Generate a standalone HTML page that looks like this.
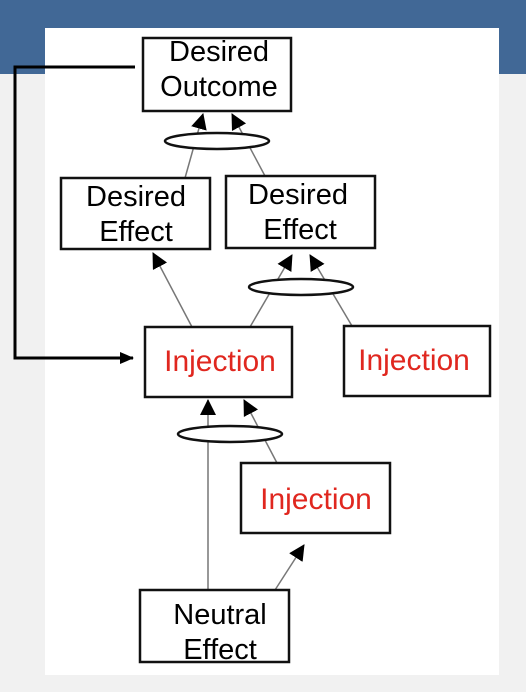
<!DOCTYPE html>
<html><head><style>
html,body{margin:0;padding:0;width:526px;height:692px;overflow:hidden;background:#f1f1f1}
</style></head><body>
<svg width="526" height="692" xmlns="http://www.w3.org/2000/svg" style="position:absolute;left:0;top:0">
<defs>
<marker id="a" markerWidth="14" markerHeight="12" refX="13" refY="6" orient="auto" markerUnits="userSpaceOnUse">
<path d="M0,0 L14,6 L0,12 Z" fill="#000"/></marker>
<marker id="b" markerWidth="16" markerHeight="16" refX="15" refY="8" orient="auto" markerUnits="userSpaceOnUse">
<path d="M0,0 L16,8 L0,16 Z" fill="#000"/></marker>
</defs>
<rect x="0" y="0" width="526" height="74" fill="#416896"/>
<rect x="45" y="28" width="454" height="647" fill="#fff"/>
<g stroke="#777" stroke-width="1.5" fill="none">
<line x1="185" y1="178" x2="203" y2="114" marker-end="url(#b)"/>
<line x1="265" y1="176" x2="232" y2="114" marker-end="url(#b)"/>
<line x1="192" y1="327" x2="153" y2="253" marker-end="url(#b)"/>
<line x1="250" y1="327" x2="292" y2="255" marker-end="url(#b)"/>
<line x1="352" y1="326" x2="310" y2="255" marker-end="url(#b)"/>
<line x1="208" y1="590" x2="208" y2="400" marker-end="url(#b)"/>
<line x1="277" y1="463" x2="244" y2="400" marker-end="url(#b)"/>
<line x1="275" y1="590" x2="304" y2="545" marker-end="url(#b)"/>
</g>
<g stroke="#111" stroke-width="2.5" fill="#fff">
<ellipse cx="217" cy="141" rx="52" ry="8"/>
<ellipse cx="301" cy="287" rx="52" ry="8"/>
<ellipse cx="230" cy="434" rx="52" ry="8"/>
<rect x="143" y="38" width="148" height="73"/>
<rect x="61" y="178" width="149" height="71"/>
<rect x="226" y="176" width="149" height="72"/>
<rect x="145" y="327" width="147" height="70"/>
<rect x="344" y="326" width="146" height="70"/>
<rect x="241" y="463" width="149" height="70"/>
<rect x="140" y="590" width="149" height="72"/>
</g>
<path d="M135,67 H15 V358 H133" stroke="#000" stroke-width="3" fill="none" marker-end="url(#a)"/>
<g font-family="Liberation Sans, sans-serif" font-size="29" text-anchor="middle" fill="#000">
<text x="219" y="61">Desired</text><text x="219" y="96">Outcome</text>
<text x="136" y="206">Desired</text><text x="136" y="241">Effect</text>
<text x="298" y="204">Desired</text><text x="300" y="239">Effect</text>
<text x="220" y="624">Neutral</text><text x="220" y="659">Effect</text>
<g fill="#e0271f" font-size="30">
<text x="220" y="371">Injection</text>
<text x="414" y="370">Injection</text>
<text x="316" y="509">Injection</text>
</g>
</g>
</svg>
</body></html>
